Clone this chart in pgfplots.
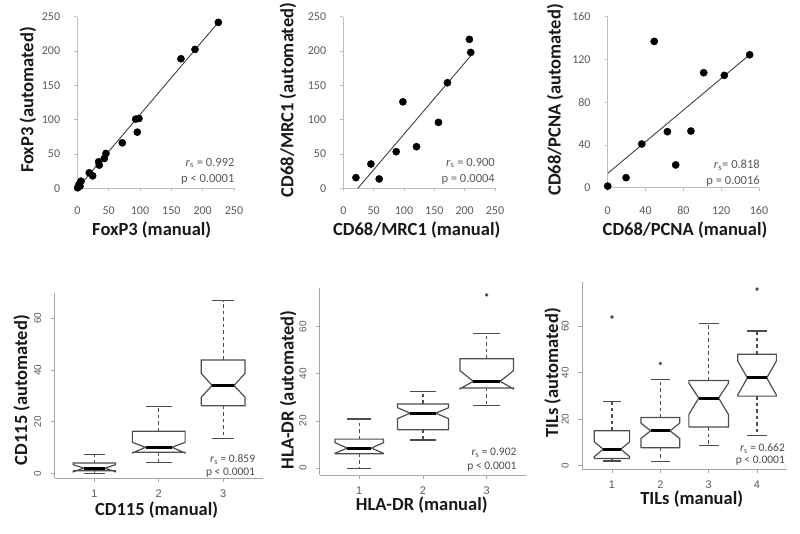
\documentclass[border=0pt]{standalone}
\usepackage{fontspec}
\setmainfont{Carlito}
\newfontfamily\rfont{Liberation Sans}
\usepackage{pgfplots}
\pgfplotsset{compat=1.18}
\definecolor{axgray}{HTML}{BFBFBF}
\definecolor{txtgray}{HTML}{595959}
\definecolor{boxgray}{HTML}{4D4D4D}

% notched box: centre, half width, low whisker, q1, notch low, median, notch high, q3, high whisker
\newcommand\nbox[9]{%
  \pgfmathsetmacro\xa{#1-#2}%
  \pgfmathsetmacro\xb{#1+#2}%
  \pgfmathsetmacro\xc{#1-#2/2}%
  \pgfmathsetmacro\xd{#1+#2/2}%
  \edef\tmp{%
    \noexpand\addplot[whisk] coordinates {(#1,#8) (#1,#9)};
    \noexpand\addplot[whisk] coordinates {(#1,#4) (#1,#3)};
    \noexpand\addplot[cap] coordinates {(\xc,#9) (\xd,#9)};
    \noexpand\addplot[cap] coordinates {(\xc,#3) (\xd,#3)};
    \noexpand\addplot[nb] coordinates {(\xa,#4) (\xb,#4) (\xb,#5) (\xd,#6) (\xb,#7) (\xb,#8) (\xa,#8) (\xa,#7) (\xc,#6) (\xa,#5) (\xa,#4)};
    \noexpand\addplot[med] coordinates {(\xc,#6) (\xd,#6)};
  }\tmp}

\tikzset{
  annot/.style={anchor=east, inner sep=0pt, font=\fontsize{12.5}{14}\selectfont, text=txtgray},
  rannot/.style={anchor=east, inner sep=0pt, font=\fontsize{11.5}{13}\selectfont, text=black!70},
}

\pgfplotsset{
  /pgf/number format/assume math mode=true,
  nb/.style={draw=boxgray, line width=1.2pt, line join=miter},
  cap/.style={draw=boxgray, line width=1.2pt},
  med/.style={draw=black, line width=3pt},
  whisk/.style={draw=boxgray, line width=1.1pt, dash pattern=on 3.5pt off 3pt},
  outl/.style={only marks, mark=*, mark size=1.5pt, draw=boxgray, fill=boxgray},
  dots/.style={only marks, mark=*, mark size=3.6pt, black},
  lin/.style={draw=black!75, line width=0.9pt},
  common/.style={scale only axis, anchor=south west, clip=false,
    axis x line*=bottom, axis y line*=left,
    axis line style={axgray, line width=0.8pt},
    tick style={axgray, line width=0.8pt},
    tick align=outside,
    label style={font=\fontsize{18.5}{21}\selectfont\bfseries, text=black!90},
  },
  topax/.style={common, major tick length=3pt,
    ticklabel style={font=\fontsize{12}{14}\selectfont, text=txtgray, inner sep=0pt},
    xticklabel style={anchor=center, yshift=-19.5pt},
    yticklabel style={anchor=east, xshift=-14pt},
  },
  rax/.style={common, major tick length=4pt,
    axis line style={black!35, line width=0.8pt},
    tick style={black!35, line width=0.8pt},
    ticklabel style={font=\rfont\fontsize{10}{12}\selectfont, text=black!65, inner sep=0pt},
    xticklabel style={anchor=center, yshift=-11.5pt, font=\rfont\fontsize{11}{12}\selectfont},
    yticklabel style={anchor=center, xshift=-12.8pt, rotate=90},
    ytick={0,20,40,60},
  },
}

\begin{document}
\begin{tikzpicture}
\useasboundingbox (0,0) rectangle (800pt,-534pt);

% ---- top row: scatter plots ----
\begin{axis}[topax, at={(77.3pt,-188.5pt)}, width=156.7pt, height=171.8pt,
  xmin=0, xmax=250, ymin=0, ymax=250,
  xtick={0,50,...,250}, ytick={0,50,...,250},
  xlabel={FoxP3 (manual)}, ylabel={FoxP3 (automated)},
  xlabel style={at={(axis description cs:0.475,-0.2416)}, anchor=center},
  ylabel style={at={(axis description cs:-0.315,0.515)}, anchor=center}]
\addplot[lin] coordinates {(0,0) (228,245)};
\addplot[dots] coordinates {(225,241.7) (187.8,202.4) (165.4,188.8) (98.4,101.9)
  (93.1,101) (95.7,82) (71.8,66.5) (45.7,51) (43.1,43.7) (34,38.8) (35.1,34)
  (19.1,22.8) (24.5,18.4) (5.9,10.7) (2.7,5.8) (0.5,1) (4.3,3.4)};
\node[annot] at (axis cs:251,37) {\textit{r}\textsubscript{s} = 0.992};
\node[annot] at (axis cs:251,13.8) {p < 0.0001};
\end{axis}

\begin{axis}[topax, at={(343.3pt,-188.3pt)}, width=151.7pt, height=171.6pt,
  xmin=0, xmax=250, ymin=0, ymax=250,
  xtick={0,50,...,250}, ytick={0,50,...,250},
  xlabel={CD68/MRC1 (manual)}, ylabel={CD68/MRC1 (automated)},
  xlabel style={at={(axis description cs:0.484,-0.243)}, anchor=center},
  ylabel style={at={(axis description cs:-0.3645,0.515)}, anchor=center}]
\addplot[lin] coordinates {(24,0) (210,193)};
\addplot[dots] coordinates {(207.8,217) (210,198) (171.6,153.8) (98.2,126)
  (156.8,96) (120.6,60.6) (87.2,53.3) (45.5,35.4) (20.8,15.5) (59.2,13.6)};
\node[annot] at (axis cs:250,36.9) {\textit{r}\textsubscript{s} = 0.900};
\node[annot] at (axis cs:250,13.5) {p = 0.0004};
\end{axis}

\begin{axis}[topax, at={(607.7pt,-187.7pt)}, width=151.3pt, height=171pt,
  xmin=0, xmax=160, ymin=0, ymax=160,
  xtick={0,40,...,160}, ytick={0,40,...,160},
  xlabel={CD68/PCNA (manual)}, ylabel={CD68/PCNA (automated)},
  xlabel style={at={(axis description cs:0.511,-0.247)}, anchor=center},
  ylabel style={at={(axis description cs:-0.348,0.513)}, anchor=center}]
\addplot[lin] coordinates {(0,13.4) (150,124.4)};
\addplot[dots] coordinates {(0,1.5) (19.4,9.4) (36,40.9) (49.2,136.9) (63.1,52.4)
  (71.9,21.3) (88,53) (101.5,107.6) (123.3,105.1) (150.1,124.4)};
\node[annot] at (axis cs:161,21.2) {\textit{r}\textsubscript{s}= 0.818};
\node[annot] at (axis cs:161,6.3) {p = 0.0016};
\end{axis}

% ---- bottom row: notched box plots ----
\begin{axis}[rax, at={(54.5pt,-478.3pt)}, width=208.5pt, height=185pt,
  xmin=0.38, xmax=3.62, ymin=-1.9, ymax=69.7, xtick={1,2,3},
  xlabel={CD115 (manual)}, ylabel={CD115 (automated)},
  xlabel style={at={(axis description cs:0.49,-0.17)}, anchor=center},
  ylabel style={at={(axis description cs:-0.157,0.477)}, anchor=center}]
\nbox{1}{0.33}{0}{1.0}{0.6}{2.0}{3.4}{4.0}{7.4}
\nbox{2}{0.41}{4.1}{8.2}{7.9}{10.1}{12.0}{16.3}{25.8}
\nbox{3}{0.34}{13.5}{26.2}{29.5}{34}{38.7}{43.9}{66.8}
\node[rannot] at (axis cs:3.5,5.3) {\textit{r}\textsubscript{s} = 0.859};
\node[rannot] at (axis cs:3.5,0.4) {p < 0.0001};
\end{axis}

\begin{axis}[rax, at={(319.8pt,-475pt)}, width=206.4pt, height=186.9pt,
  xmin=0.38, xmax=3.62, ymin=-2.9, ymax=76.3, xtick={1,2,3},
  xlabel={HLA-DR (manual)}, ylabel={HLA-DR (automated)},
  xlabel style={at={(axis description cs:0.494,-0.158)}, anchor=center},
  ylabel style={at={(axis description cs:-0.153,0.455)}, anchor=center}]
\nbox{1}{0.38}{0}{6.1}{6.3}{8.5}{10.8}{12.3}{20.8}
\nbox{2}{0.40}{11.9}{16.3}{21.0}{23.3}{25.6}{27.2}{32.4}
\nbox{3}{0.42}{26.7}{34.0}{33.6}{36.8}{41.3}{46.4}{57.0}
\addplot[outl] coordinates {(3,73.4)};
\node[rannot] at (axis cs:3.47,6.4) {\textit{r}\textsubscript{s} = 0.902};
\node[rannot] at (axis cs:3.47,0.6) {p < 0.0001};
\end{axis}

\begin{axis}[rax, at={(582pt,-469pt)}, width=205pt, height=186.7pt,
  xmin=0.38, xmax=4.62, ymin=-1.4, ymax=78.8, xtick={1,2,3,4},
  xlabel={TILs (manual)}, ylabel={TILs (automated)},
  xlabel style={at={(axis description cs:0.535,-0.163)}, anchor=center},
  ylabel style={at={(axis description cs:-0.143,0.514)}, anchor=center}]
\nbox{1}{0.365}{2.0}{3.1}{3.9}{7.1}{10.3}{15.0}{27.7}
\nbox{2}{0.40}{1.7}{7.7}{11.7}{15.0}{18.3}{20.7}{37.0}
\nbox{3}{0.41}{8.7}{16.6}{22.0}{29.1}{35.5}{36.6}{61.0}
\nbox{4}{0.40}{12.9}{29.9}{30.4}{37.7}{45.0}{47.9}{57.9}
\addplot[outl] coordinates {(1,63.9) (2,43.9) (4,75.9)};
\node[rannot] at (axis cs:4.58,7.5) {\textit{r}\textsubscript{s} = 0.662};
\node[rannot] at (axis cs:4.58,2.0) {p < 0.0001};
\end{axis}
\end{tikzpicture}
\end{document}
